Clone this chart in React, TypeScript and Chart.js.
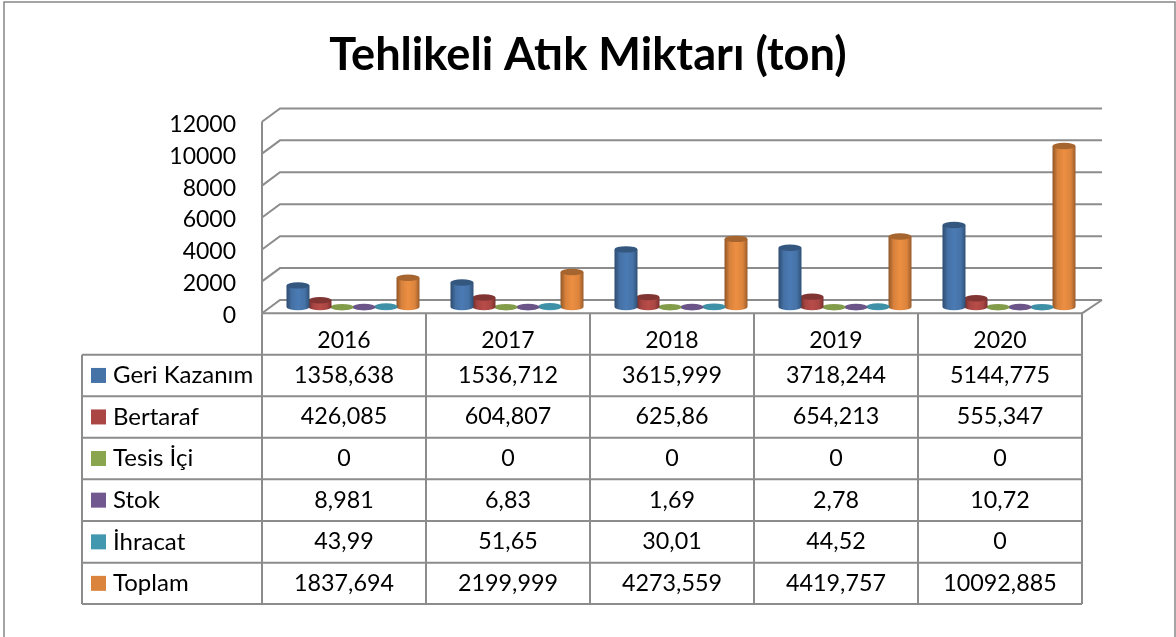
import React, { useEffect, useRef } from "react";
import { Chart, registerables, BarController } from "chart.js";

const titleText = "Tehlikeli Atık Miktarı (ton)";
const years = ["2016", "2017", "2018", "2019", "2020"];
const seriesNames = ["Geri Kazanım", "Bertaraf", "Tesis İçi", "Stok", "İhracat", "Toplam"];
const seriesColors = ["#4572A7", "#AA4643", "#89A54E", "#71588F", "#4198AF", "#DB843D"];
const geriKazanim = [1358.638, 1536.712, 3615.999, 3718.244, 5144.775];
const bertaraf = [426.085, 604.807, 625.86, 654.213, 555.347];
const tesisIci = [0, 0, 0, 0, 0];
const stok = [8.981, 6.83, 1.69, 2.78, 10.72];
const ihracat = [43.99, 51.65, 30.01, 44.52, 0];
const toplam = [1837.694, 2199.999, 4273.559, 4419.757, 10092.885];
const seriesValues = [geriKazanim, bertaraf, tesisIci, stok, ihracat, toplam];

const FONT = "Lato, Carlito, sans-serif";
const LINE = "#8c8c8c";
const DEPTH_X = 18;
const DEPTH_Y = -13.3;
const BAR_DX = 9;
const BAR_DY = -6.2;
const CAP_RY = 3.2;
const TABLE_LEFT = 82;
const ROW_TOPS = [354.7, 396.2, 437.7, 479.3, 521, 562.7, 604];
const W = 1176;
const H = 637;

function shade(hex: string, f: number) {
  const n = parseInt(hex.slice(1), 16);
  const c = [(n >> 16) & 255, (n >> 8) & 255, n & 255].map((v) =>
    Math.max(0, Math.min(255, Math.round(v * f)))
  );
  return `rgb(${c[0]},${c[1]},${c[2]})`;
}

class CylinderController extends (BarController as any) {
  static id = "cylinder";
  draw() {
    const ctx: CanvasRenderingContext2D = (this as any)._ctx;
    const meta = (this as any)._cachedMeta;
    const color: string = (this as any).getDataset().backgroundColor;
    ctx.save();
    for (const el of meta.data) {
      const x = el.x + BAR_DX;
      const top = el.y + BAR_DY;
      const base = el.base + BAR_DY;
      const rx = el.width / 2 + 0.5;
      const g = ctx.createLinearGradient(x - rx, 0, x + rx, 0);
      g.addColorStop(0, shade(color, 0.66));
      g.addColorStop(0.22, shade(color, 0.98));
      g.addColorStop(0.5, shade(color, 1.08));
      g.addColorStop(0.8, shade(color, 1.0));
      g.addColorStop(1, shade(color, 0.7));
      ctx.fillStyle = g;
      ctx.beginPath();
      ctx.moveTo(x - rx, top);
      ctx.lineTo(x - rx, base);
      ctx.ellipse(x, base, rx, CAP_RY, 0, Math.PI, 0, true);
      ctx.lineTo(x + rx, top);
      ctx.closePath();
      ctx.fill();
      ctx.fillStyle = base - top < 1 ? shade(color, 0.95) : shade(color, 0.76);
      ctx.beginPath();
      ctx.ellipse(x, top, rx, CAP_RY, 0, 0, Math.PI * 2);
      ctx.fill();
    }
    ctx.restore();
  }
}

const wallsPlugin = {
  id: "walls",
  beforeDatasetsDraw(chart: any) {
    const { ctx, chartArea: a, scales } = chart;
    const y = scales.y;
    ctx.save();
    ctx.strokeStyle = LINE;
    ctx.lineWidth = 2;
    ctx.beginPath();
    for (const t of y.ticks) {
      const py = y.getPixelForValue(t.value);
      ctx.moveTo(a.left, py);
      ctx.lineTo(a.left + DEPTH_X, py + DEPTH_Y);
      ctx.lineTo(a.right + DEPTH_X + 2, py + DEPTH_Y);
    }
    ctx.moveTo(a.left, a.top);
    ctx.lineTo(a.left, a.bottom);
    ctx.moveTo(a.right, a.bottom);
    ctx.lineTo(a.right + DEPTH_X + 2, a.bottom + DEPTH_Y);
    ctx.stroke();
    ctx.restore();
  },
};

const framePlugin = {
  id: "frame",
  beforeDraw(chart: any) {
    const { ctx } = chart;
    ctx.save();
    ctx.fillStyle = "#ffffff";
    ctx.fillRect(0, 0, W, H);
    ctx.strokeStyle = "#868686";
    ctx.lineWidth = 1.5;
    ctx.beginPath();
    ctx.moveTo(4, H);
    ctx.lineTo(4, 2);
    ctx.lineTo(1175, 2);
    ctx.lineTo(1175, H);
    ctx.stroke();
    ctx.restore();
  },
};

const tablePlugin = {
  id: "dataTable",
  afterDraw(chart: any) {
    const { ctx, chartArea: a } = chart;
    const xs = chart.scales.x;
    const cellW = (a.right - a.left) / years.length;
    const bottom = ROW_TOPS[ROW_TOPS.length - 1];
    ctx.save();
    ctx.strokeStyle = LINE;
    ctx.lineWidth = 2;
    ctx.beginPath();
    ctx.moveTo(a.left, a.bottom);
    ctx.lineTo(a.right, a.bottom);
    for (let i = 0; i <= years.length; i++) {
      const x = a.left + i * cellW;
      ctx.moveTo(x, a.bottom);
      ctx.lineTo(x, bottom);
    }
    ctx.moveTo(TABLE_LEFT, ROW_TOPS[0]);
    ctx.lineTo(TABLE_LEFT, bottom);
    for (const r of ROW_TOPS) {
      ctx.moveTo(TABLE_LEFT, r);
      ctx.lineTo(a.right, r);
    }
    ctx.stroke();
    ctx.textBaseline = "middle";
    seriesNames.forEach((name, r) => {
      const mid = (ROW_TOPS[r] + ROW_TOPS[r + 1]) / 2;
      ctx.fillStyle = seriesColors[r];
      ctx.fillRect(91, mid - 7.5, 15, 15);
      ctx.fillStyle = "#000000";
      ctx.textAlign = "left";
      ctx.font = `24px ${FONT}`;
      ctx.fillText(name, 113, mid);
      ctx.textAlign = "center";
      ctx.font = `23.3px ${FONT}`;
      seriesValues[r].forEach((v, c) => {
        ctx.fillText(String(v).replace(".", ","), xs.getPixelForValue(c), mid);
      });
    });
    ctx.restore();
  },
};

Chart.register(...registerables, CylinderController as any);

export default function App() {
  const ref = useRef<HTMLCanvasElement>(null);
  useEffect(() => {
    document.body.style.margin = "0";
    document.body.style.overflow = "hidden";
    const chart = new Chart(ref.current as HTMLCanvasElement, {
      type: "cylinder" as any,
      data: {
        labels: years,
        datasets: seriesNames.map((label, i) => ({
          label,
          data: seriesValues[i],
          backgroundColor: seriesColors[i],
          categoryPercentage: 0.805,
          barPercentage: 1,
          clip: false,
        })) as any,
      },
      plugins: [framePlugin, wallsPlugin, tablePlugin],
      options: {
        responsive: false,
        animation: false,
        events: [],
        layout: { padding: 0 },
        plugins: {
          legend: { display: false },
          tooltip: { enabled: false },
          title: {
            display: true,
            text: titleText,
            color: "#000000",
            font: { family: FONT, size: 45.2, weight: "bold", lineHeight: 1.2 },
            padding: { top: 28, bottom: 39.5 },
          },
        },
        scales: {
          x: {
            type: "category",
            offset: true,
            grid: { display: false, drawTicks: false },
            border: { display: false },
            ticks: { color: "#000000", font: { family: FONT, size: 23 }, padding: 13, maxRotation: 0 },
            afterFit(s: any) {
              s.height = H - 313.3;
            },
          },
          y: {
            type: "linear",
            min: 0,
            max: 12000,
            grid: { display: false, drawTicks: false },
            border: { display: false },
            ticks: {
              stepSize: 2000,
              color: "#000000",
              font: { family: FONT, size: 23 },
              padding: 26,
              labelOffset: 2.5,
              callback: (v: any) => String(v),
            },
            afterFit(s: any) {
              s.width = 262;
            },
          },
          rightSpace: {
            type: "linear",
            position: "right",
            grid: { display: false, drawTicks: false },
            border: { display: false },
            ticks: { display: false },
            afterFit(s: any) {
              s.width = W - 1082;
            },
          },
        },
      } as any,
    });
    return () => chart.destroy();
  }, []);
  return (
    <div style={{ position: "fixed", left: 0, top: 0, width: W, height: H }}>
      <canvas ref={ref} width={W} height={H} style={{ display: "block" }} />
    </div>
  );
}
